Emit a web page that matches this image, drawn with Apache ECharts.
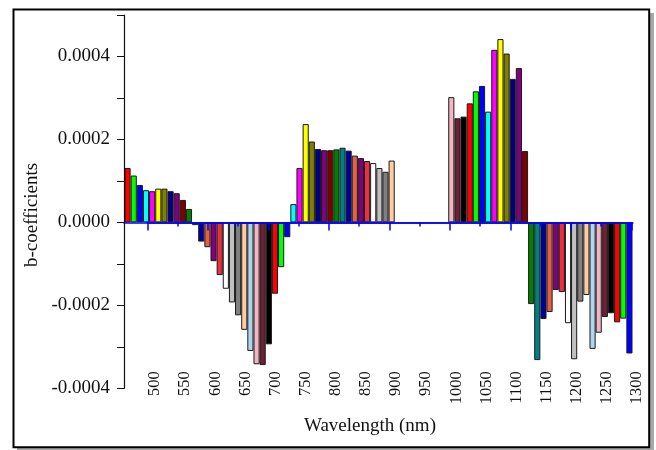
<!DOCTYPE html>
<html>
<head>
<meta charset="utf-8">
<script src="https://cdn.jsdelivr.net/npm/echarts@6/dist/echarts.min.js"></script>
<style>
html,body{margin:0;padding:0;background:#fff;}
#chart{width:656px;height:450px;}
</style>
</head>
<body>
<div id="chart"></div>
<script>
// Wavelengths (nm) of the bars, read against the axis ticks
const WAVE_1 = [467.4, 477.6, 487.7, 497.9, 508.0, 518.2, 528.3, 538.5, 548.6, 558.8, 568.9, 579.1, 589.2, 599.4, 609.5, 619.7, 629.8, 640.0, 650.1, 660.3, 670.4, 680.6, 690.7, 700.9, 711.0, 721.2, 731.3, 741.5, 751.6, 761.8, 771.9, 782.1, 792.2, 802.4, 812.5, 822.7, 832.8, 843.0, 853.1, 863.3, 873.4, 883.6, 893.7, 903.9];
const COEF_1 = [0.000131, 0.000113, 0.000090, 0.0000776, 0.0000752, 0.0000814, 0.0000814, 0.0000752, 0.0000704, 0.0000542, 0.0000325, -0.0000067, -0.0000463, -0.0000598, -0.0000935, -0.000127, -0.000160, -0.000193, -0.000224, -0.000259, -0.000310, -0.000342, -0.000344, -0.000294, -0.000172, -0.000108, -0.0000357, 0.0000440, 0.000131, 0.000237, 0.000195, 0.000177, 0.000174, 0.000174, 0.000176, 0.000180, 0.000173, 0.000161, 0.000155, 0.000148, 0.000143, 0.000131, 0.000122, 0.000149];
const WAVE_2 = [1002.5, 1012.7, 1022.8, 1033.0, 1043.1, 1053.3, 1063.4, 1073.6, 1083.7, 1093.9, 1104.0, 1114.2, 1124.3, 1134.5, 1144.6, 1154.8, 1164.9, 1175.1, 1185.2, 1195.4, 1205.5, 1215.7, 1225.8, 1236.0, 1246.1, 1256.3, 1266.4, 1276.6, 1286.7, 1296.9];
const COEF_2 = [0.000302, 0.000251, 0.000255, 0.000287, 0.000316, 0.000329, 0.000267, 0.000416, 0.000442, 0.000407, 0.000346, 0.000372, 0.000172, -0.000197, -0.000332, -0.000233, -0.000216, -0.000163, -0.000168, -0.000243, -0.000330, -0.000191, -0.000175, -0.000305, -0.000266, -0.000228, -0.000219, -0.000241, -0.000232, -0.000316];
const X_TICK_LABELS = [500, 550, 600, 650, 700, 750, 800, 850, 900, 950, 1000, 1050, 1100, 1150, 1200, 1250, 1300];
const Y_TICK_LABELS = [-0.0004, -0.0002, 0.0000, 0.0002, 0.0004];
const X_TITLE = 'Wavelength (nm)';
const Y_TITLE = 'b-coefficients';

// styles
const PALETTE = ['#FF0000','#00FF00','#0000FF','#00FFFF','#FF00FF','#FFFF00','#808000','#000080','#800080','#800000','#008000','#008080','#0000A0','#E5603C','#800080','#EE2E40','#FFFFFF','#C0C0C0','#808080','#FFCBA4','#AED6F0','#F2B6C2','#6E2034','#000000'];
const START_1 = 0, START_2 = 21;
const FONT = 'Liberation Serif, Times New Roman, serif';

const bars = [];
WAVE_1.forEach((w, i) => bars.push({value: [w, COEF_1[i]], itemStyle: {color: PALETTE[(START_1 + i) % PALETTE.length]}}));
WAVE_2.forEach((w, i) => bars.push({value: [w, COEF_2[i]], itemStyle: {color: PALETTE[(START_2 + i) % PALETTE.length]}}));

const TOP = 15, HEIGHT = 373.3;
const yRange = {min: -0.0004, max: 0.0005};

const chart = echarts.init(document.getElementById('chart'), null, {renderer: 'canvas'});
chart.setOption({
  animation: false,
  backgroundColor: '#fff',
  textStyle: {fontFamily: FONT},
  graphic: [
    {type: 'rect', z: -20, silent: true, shape: {x: 17, y: 13, width: 637, height: 440}, style: {fill: '#a8a8a8'}},
    {type: 'rect', z: -10, silent: true, shape: {x: 13.5, y: 9.5, width: 635.7, height: 437.8}, style: {fill: '#fff', stroke: '#000', lineWidth: 2}},
    {type: 'text', z: 10, x: 32, y: 215, rotation: Math.PI / 2, style: {text: Y_TITLE, fontFamily: FONT, fontSize: 19, fill: '#111', align: 'center', verticalAlign: 'middle'}},
    {type: 'text', z: 10, x: 370, y: 426, style: {text: X_TITLE, fontFamily: FONT, fontSize: 19, fill: '#111', align: 'center', verticalAlign: 'middle'}}
  ],
  grid: [
    {left: 124, top: TOP, width: 509, height: HEIGHT},
    {left: 155 - 50 * 0.6025, top: TOP, width: 800 * 0.6025 + 50 * 0.6025, height: HEIGHT},
    {left: 147.3, top: TOP, width: 800 * 0.605, height: HEIGHT}
  ],
  xAxis: [
    {
      gridIndex: 0, type: 'value', min: 461.5, max: 1302.8, z: 10,
      axisLine: {show: true, onZero: true, lineStyle: {color: '#0000FF', width: 1.5}},
      axisTick: {show: false}, axisLabel: {show: false}, splitLine: {show: false}
    },
    {
      gridIndex: 1, type: 'value', min: X_TICK_LABELS[0] - 50, max: X_TICK_LABELS[X_TICK_LABELS.length - 1], interval: 50,
      position: 'bottom', offset: -17,
      axisLine: {show: false, onZero: false}, axisTick: {show: false}, splitLine: {show: false},
      axisLabel: {show: true, rotate: 90, margin: 0, showMinLabel: false, fontFamily: FONT, fontSize: 16.5, color: '#111',
        formatter: v => X_TICK_LABELS.indexOf(v) >= 0 ? String(v) : ''}
    },
    {
      gridIndex: 2, type: 'value', min: 500, max: 1300, interval: 100, z: 10,
      axisLine: {show: true, onZero: true, lineStyle: {color: '#0000FF', width: 1.5}},
      axisTick: {show: true, inside: false, length: 8, lineStyle: {color: '#0000FF', width: 1.5}},
      minorTick: {show: true, splitNumber: 2, length: 4, lineStyle: {color: '#0000FF', width: 1.5}},
      axisLabel: {show: false}, splitLine: {show: false}
    }
  ],
  yAxis: [
    {
      gridIndex: 0, type: 'value', min: yRange.min, max: yRange.max, interval: 0.0001, z: 10,
      axisLine: {show: true, lineStyle: {color: '#111', width: 1.2}},
      axisTick: {show: true, inside: false, length: 7, lineStyle: {color: '#111', width: 1}},
      splitLine: {show: false},
      axisLabel: {show: true, margin: 14, fontFamily: FONT, fontSize: 19, color: '#111',
        formatter: v => {
          const k = Math.round(v * 1e4);
          const hit = Y_TICK_LABELS.some(t => Math.round(t * 1e4) === k);
          return hit ? (k / 1e4).toFixed(4) : '';
        }}
    },
    {gridIndex: 1, type: 'value', min: yRange.min, max: yRange.max, show: false},
    {gridIndex: 2, type: 'value', min: yRange.min, max: yRange.max, show: false}
  ],
  series: [{
    type: 'bar',
    xAxisIndex: 0, yAxisIndex: 0,
    barWidth: 6.14,
    data: bars,
    itemStyle: {borderColor: '#1a1a1a', borderWidth: 1}
  }]
});
</script>
</body>
</html>
